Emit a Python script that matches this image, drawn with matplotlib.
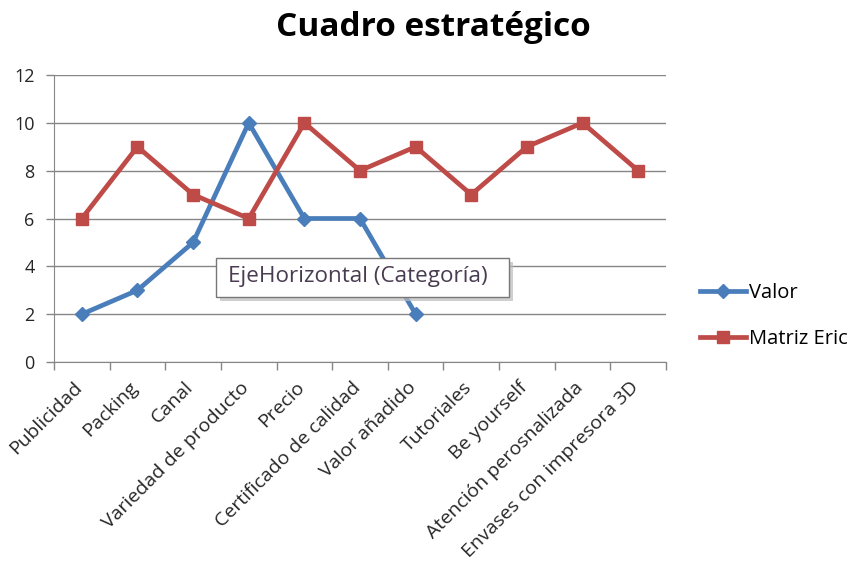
import matplotlib
matplotlib.use("Agg")
import matplotlib.pyplot as plt
from matplotlib.lines import Line2D
from matplotlib.patches import FancyBboxPatch
import matplotlib.transforms as mtransforms
import numpy as np

plt.rcParams['font.family'] = ['Open Sans', 'DejaVu Sans']

categories = ["Publicidad", "Packing", "Canal", "Variedad de producto", "Precio",
              "Certificado de calidad", "Valor añadido", "Tutoriales", "Be yourself",
              "Atención perosnalizada", "Envases con impresora 3D"]
valor = [2, 3, 5, 10, 6, 6, 2]
matriz_eric = [6, 9, 7, 6, 10, 8, 9, 7, 9, 10, 8]
y_ticks = [0, 2, 4, 6, 8, 10, 12]

blue = "#4A7EBB"
red = "#BE4B48"
grid = "#868686"
txt = "#262626"

fig = plt.figure(figsize=(8.52, 5.63), dpi=100)
ax = fig.add_axes([54/852, 1-362/563, (666-54)/852, (362-75)/563])

x_all = np.arange(len(categories))
ax.plot(x_all[:len(valor)], valor, color=blue, lw=3.4, marker="D", ms=7.5,
        mfc=blue, mec=blue, label="Valor", zorder=3)
ax.plot(x_all, matriz_eric, color=red, lw=3.4, marker="s", ms=9,
        mfc=red, mec=red, label="Matriz Eric", zorder=3)

ax.set_xlim(-0.5, len(categories)-0.5)
ax.set_ylim(0, 12)
ax.set_yticks(y_ticks)
ax.set_yticklabels([str(v) for v in y_ticks], fontsize=13, color=txt)
ax.yaxis.grid(True, color=grid, lw=1)
ax.set_axisbelow(True)

ax.set_xticks(x_all)
ax.set_xticklabels(categories, rotation=45, ha="right", va="bottom",
                   rotation_mode="anchor", fontsize=14, color=txt)
ax.tick_params(axis="x", length=0, pad=21)
offset = mtransforms.ScaledTranslation(4/100, 0, fig.dpi_scale_trans)
for lab in ax.get_xticklabels():
    lab.set_transform(lab.get_transform() + offset)
ax.set_xticks(np.arange(-0.5, len(categories)), minor=True)
ax.tick_params(axis="x", which="minor", length=6, color=grid, width=1, direction="out")
ax.tick_params(axis="y", length=6, color=grid, width=1, direction="out", pad=8)

for s in ["top", "right"]:
    ax.spines[s].set_visible(False)
ax.spines["left"].set_color(grid)
ax.spines["bottom"].set_color(grid)

fig.text(433/852, 1 - 27/563, "Cuadro estratégico",
         ha="center", va="center", fontsize=24, fontweight="bold", color="#000000")

handles = [Line2D([0], [0], color=blue, lw=3.4, marker="D", ms=7.5),
           Line2D([0], [0], color=red, lw=3.4, marker="s", ms=9)]
fig.legend(handles, ["Valor", "Matriz Eric"], loc="center left",
           bbox_to_anchor=(690/852, 1 - 316/563), frameon=False, fontsize=14.5,
           handlelength=2.3, handletextpad=0.15, labelspacing=1.25, borderpad=0)

# tooltip box
shadow = FancyBboxPatch((220/852, 1-301/563), (293/852), (39/563),
                        boxstyle="square,pad=0", transform=fig.transFigure,
                        facecolor="#bbbbbb", edgecolor="none", zorder=9, alpha=0.7)
fig.patches.append(shadow)
box = FancyBboxPatch((216/852, 1-297/563), (293/852), (39/563),
                     boxstyle="square,pad=0", transform=fig.transFigure,
                     facecolor="white", edgecolor="#777777", lw=1, zorder=10)
fig.patches.append(box)
fig.text(228/852, 1-277/563, "EjeHorizontal (Categoría)", ha="left", va="center",
         fontsize=16.2, color="#4a3c50", zorder=11)

fig.savefig("out.png", dpi=100)
